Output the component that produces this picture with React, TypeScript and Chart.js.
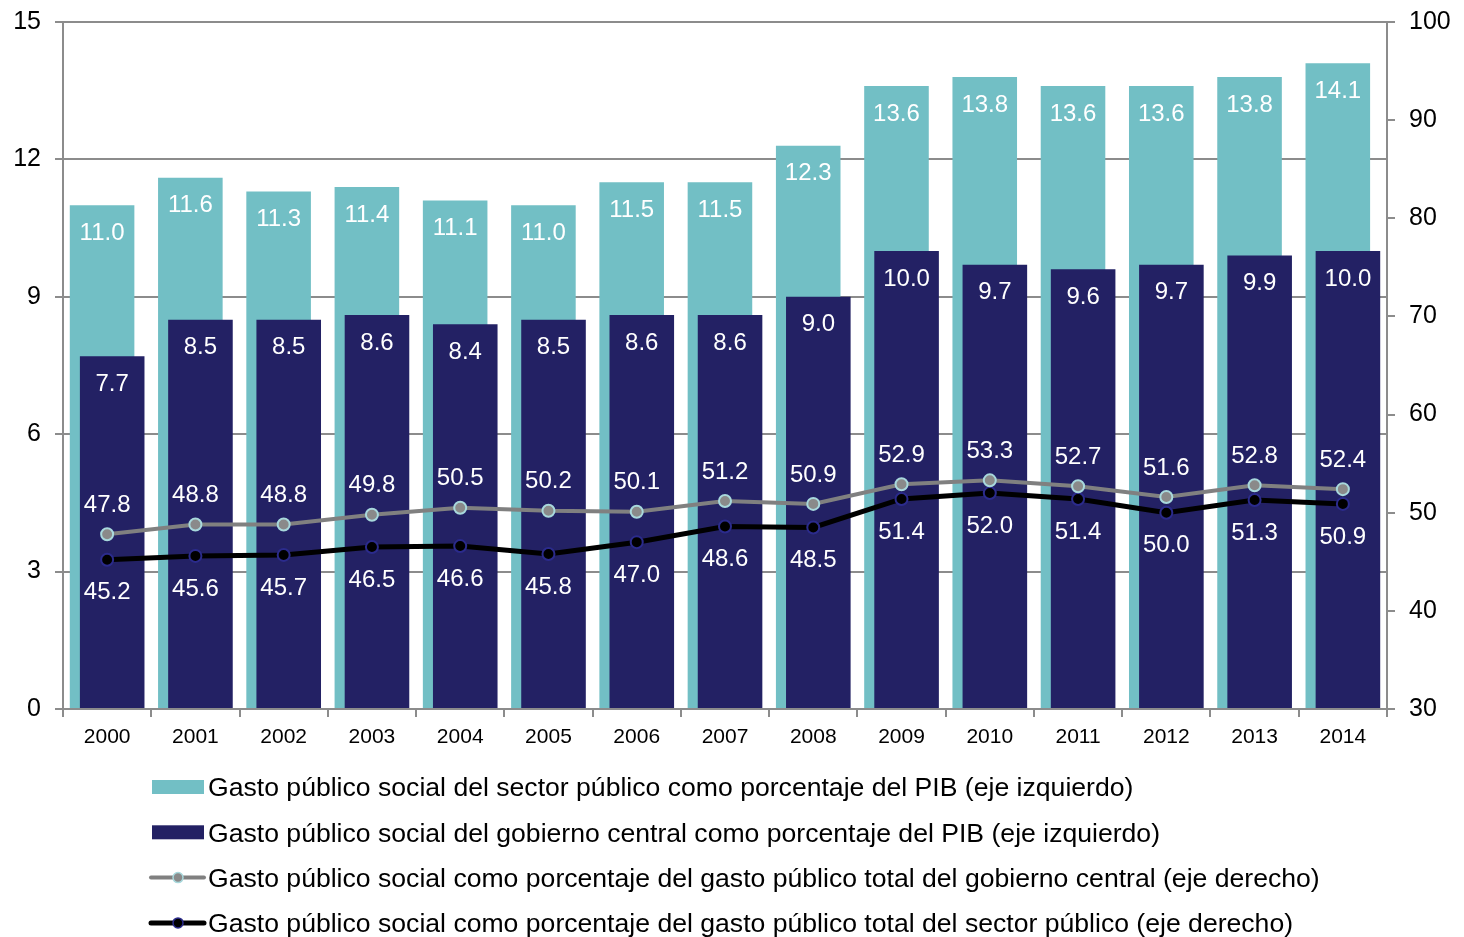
import React, { useEffect, useRef } from "react";
import { Chart, registerables } from "chart.js";

Chart.register(...registerables);

const years = ["2000", "2001", "2002", "2003", "2004", "2005", "2006", "2007", "2008", "2009", "2010", "2011", "2012", "2013", "2014"];
const sectorPublicoPIB = [11.0, 11.6, 11.3, 11.4, 11.1, 11.0, 11.5, 11.5, 12.3, 13.6, 13.8, 13.6, 13.6, 13.8, 14.1];
const gobiernoCentralPIB = [7.7, 8.5, 8.5, 8.6, 8.4, 8.5, 8.6, 8.6, 9.0, 10.0, 9.7, 9.6, 9.7, 9.9, 10.0];
const pctGastoGobiernoCentral = [47.8, 48.8, 48.8, 49.8, 50.5, 50.2, 50.1, 51.2, 50.9, 52.9, 53.3, 52.7, 51.6, 52.8, 52.4];
const pctGastoSectorPublico = [45.2, 45.6, 45.7, 46.5, 46.6, 45.8, 47.0, 48.6, 48.5, 51.4, 52.0, 51.4, 50.0, 51.3, 50.9];
const leftTicks = [0, 3, 6, 9, 12, 15];
const rightTicks = [30, 40, 50, 60, 70, 80, 90, 100];
const legendLabels = [
  "Gasto público social del sector público como porcentaje del PIB (eje izquierdo)",
  "Gasto público social del gobierno central como porcentaje del PIB (eje izquierdo)",
  "Gasto público social como porcentaje del gasto público total del gobierno central (eje derecho)",
  "Gasto público social como porcentaje del gasto público total del sector público (eje derecho)",
];

const FONT = 'Arial, "Liberation Sans", sans-serif';
const TEAL = "#72bfc5";
const NAVY = "#232164";
const GRAY_LINE = "#808080";
const AXIS = "#8c8c8c";

const labelsPlugin = {
  id: "valueLabels",
  afterDatasetsDraw(chart: any) {
    const ctx = chart.ctx;
    ctx.save();
    ctx.fillStyle = "#ffffff";
    ctx.font = `24px ${FONT}`;
    ctx.textAlign = "center";
    ctx.textBaseline = "middle";
    chart.data.datasets.forEach((ds: any, i: number) => {
      const kind = ds.labelKind;
      if (!kind) return;
      const meta = chart.getDatasetMeta(i);
      meta.data.forEach((el: any, j: number) => {
        const v = ds.data[j];
        if (v == null) return;
        let y = el.y;
        if (kind === "bar") y = el.y + 28;
        else if (kind === "above") y = el.y - 29;
        else y = el.y + 33;
        ctx.fillText(Number(v).toFixed(1), el.x, y);
      });
    });
    ctx.restore();
  },
};

const legendPlugin = {
  id: "customLegend",
  afterDraw(chart: any) {
    const ctx = chart.ctx;
    ctx.save();
    ctx.font = `26.6px ${FONT}`;
    ctx.textAlign = "left";
    ctx.textBaseline = "middle";
    legendLabels.forEach((txt, i) => {
      const y = 787 + i * 45.3;
      if (i < 2) {
        ctx.fillStyle = i === 0 ? TEAL : NAVY;
        ctx.fillRect(152, y - 7, 52, 14);
      } else {
        ctx.strokeStyle = i === 2 ? GRAY_LINE : "#000000";
        ctx.lineWidth = i === 2 ? 4 : 5;
        ctx.lineCap = "round";
        ctx.beginPath();
        ctx.moveTo(151, y);
        ctx.lineTo(204, y);
        ctx.stroke();
        ctx.beginPath();
        ctx.arc(178, y, 5, 0, Math.PI * 2);
        ctx.fillStyle = i === 2 ? "#8a8a8a" : "#000000";
        ctx.fill();
        ctx.lineWidth = 1.5;
        ctx.strokeStyle = i === 2 ? "#a8d8dc" : "#2b2b8c";
        ctx.stroke();
      }
      ctx.fillStyle = "#000000";
      ctx.fillText(txt, 208, y + 2);
    });
    ctx.restore();
  },
};

export default function App() {
  const ref = useRef<HTMLCanvasElement>(null);
  useEffect(() => {
    if (!ref.current) return;
    const nulls = years.map(() => null);
    const noPad = (s: any) => {
      s.paddingTop = 0;
      s.paddingBottom = 0;
    };
    const chart = new Chart(ref.current, {
      type: "bar",
      data: {
        labels: years,
        datasets: [
          {
            type: "line",
            label: legendLabels[2],
            data: pctGastoGobiernoCentral,
            yAxisID: "y1",
            borderColor: GRAY_LINE,
            borderWidth: 4,
            pointRadius: 6,
            pointBackgroundColor: "#8a8a8a",
            pointBorderColor: "#a8d8dc",
            pointBorderWidth: 2,
            tension: 0,
            order: 0,
            labelKind: "above",
          } as any,
          {
            type: "line",
            label: legendLabels[3],
            data: pctGastoSectorPublico,
            yAxisID: "y1",
            borderColor: "#000000",
            borderWidth: 5,
            pointRadius: 6,
            pointBackgroundColor: "#000000",
            pointBorderColor: "#2b2b8c",
            pointBorderWidth: 2,
            tension: 0,
            order: 0,
            labelKind: "below",
          } as any,
          {
            label: "slotA",
            data: nulls,
            yAxisID: "y",
            stack: "A",
            order: 1,
          } as any,
          {
            label: legendLabels[1],
            data: gobiernoCentralPIB,
            yAxisID: "y",
            backgroundColor: NAVY,
            stack: "B",
            order: 2,
            labelKind: "bar",
          } as any,
          {
            label: legendLabels[0],
            data: sectorPublicoPIB,
            yAxisID: "y",
            backgroundColor: TEAL,
            stack: "A",
            order: 3,
            labelKind: "bar",
          } as any,
        ],
      },
      options: {
        responsive: false,
        animation: false,
        events: [],
        datasets: {
          bar: {
            categoryPercentage: 0.229,
            barPercentage: 6.39,
          },
        },
        layout: { padding: { top: 22, left: 0, right: 0, bottom: 0 } },
        plugins: {
          legend: { display: false },
          tooltip: { enabled: false },
        },
        scales: {
          x: {
            type: "category",
            offset: true,
            position: "bottom",
            afterFit: (s: any) => {
              s.height = 228;
            },
            grid: {
              offset: true,
              drawOnChartArea: false,
              drawTicks: true,
              tickLength: 8,
              color: AXIS,
              lineWidth: 2,
            },
            border: { display: true, color: AXIS, width: 2 },
            ticks: {
              color: "#000000",
              font: { family: FONT, size: 21 },
              padding: 8,
              maxRotation: 0,
            },
          },
          y: {
            position: "left",
            min: 0,
            max: 15,
            stacked: false,
            afterFit: (s: any) => {
              s.width = 63;
              noPad(s);
            },
            afterBuildTicks: (s: any) => {
              s.ticks = leftTicks.map((v) => ({ value: v }));
            },
            grid: {
              color: AXIS,
              lineWidth: 2,
              drawTicks: true,
              tickLength: 8,
            },
            border: { display: true, color: AXIS, width: 2 },
            ticks: {
              color: "#000000",
              font: { family: FONT, size: 25 },
              padding: 14,
            },
          },
          y1: {
            position: "right",
            min: 30,
            max: 100,
            stacked: false,
            afterFit: (s: any) => {
              s.width = 77;
              noPad(s);
            },
            afterBuildTicks: (s: any) => {
              s.ticks = rightTicks.map((v) => ({ value: v }));
            },
            grid: {
              drawOnChartArea: false,
              color: AXIS,
              lineWidth: 2,
              drawTicks: true,
              tickLength: 8,
            },
            border: { display: true, color: AXIS, width: 2 },
            ticks: {
              color: "#000000",
              font: { family: FONT, size: 25 },
              padding: 14,
            },
          },
        },
      } as any,
      plugins: [labelsPlugin, legendPlugin],
    });
    return () => chart.destroy();
  }, []);
  return (
    <div style={{ position: "absolute", left: 0, top: 0, width: 1464, height: 937, background: "#ffffff" }}>
      <canvas ref={ref} width={1464} height={937} style={{ display: "block" }} />
    </div>
  );
}
